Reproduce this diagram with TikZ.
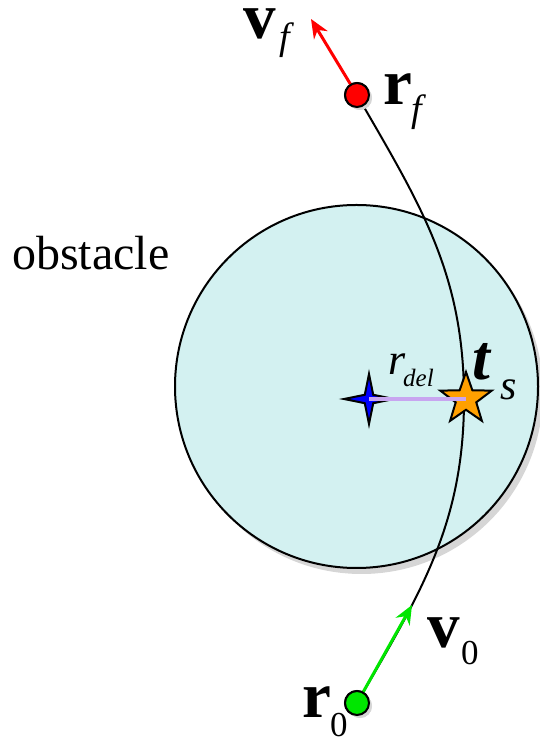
\documentclass[tikz,border=0pt]{standalone}
\usepackage{fontspec}
\setmainfont{Liberation Serif}
\newfontfamily\lblfont{Liberation Serif}
\usetikzlibrary{shapes.geometric, arrows.meta, shadows}
\definecolor{colobst}{RGB}{211,241,241}
\definecolor{colshadow}{RGB}{214,214,214}
\definecolor{colstart}{RGB}{0,230,0}
\definecolor{colend}{RGB}{255,0,0}
\definecolor{colcentre}{RGB}{0,0,255}
\definecolor{colhit}{RGB}{255,160,0}
\definecolor{coldel}{RGB}{200,165,240}
\tikzstyle{endpt}=[circle, draw=black, line width=2bp, minimum size=24bp, inner sep=0pt,
  drop shadow={shadow xshift=3bp, shadow yshift=-3bp, fill=colshadow, opacity=1}]
\tikzstyle{path}=[line width=2bp, black]
\tikzstyle{vel}=[line width=3bp, -{Stealth[length=19bp, width=16bp]}]
\tikzstyle{mainsym}=[anchor=base west, inner sep=0pt, font=\lblfont\fontsize{65bp}{70bp}\selectfont\bfseries]
\tikzstyle{subsym}=[anchor=base west, inner sep=0pt, font=\lblfont\fontsize{38bp}{40bp}\selectfont\itshape]
\tikzstyle{subnum}=[anchor=base west, inner sep=0pt, font=\lblfont\fontsize{35bp}{38bp}\selectfont]

\begin{document}
\begin{tikzpicture}[x=1bp, y=1bp]
      \useasboundingbox (0,0) rectangle (540,745);

      % Obstacle
      \node[circle, draw=black, line width=2bp, fill=colobst, minimum size=363bp, inner sep=0pt,
        drop shadow={shadow xshift=5bp, shadow yshift=-6bp, fill=colshadow, opacity=1}] (obs) at (356.5,358.5) {};
      \node[anchor=base west, inner sep=0pt, font=\lblfont\fontsize{48bp}{50bp}\selectfont] (obslbl) at (12,475) {obstacle};

      % Trajectory
      \node[endpt, fill=colstart] (r0) at (357,42) {};
      \node[endpt, fill=colend] (rf) at (357,650) {};
      \coordinate (turn) at (464,346);
      \coordinate (v0tip) at (412,140);
      \coordinate (vftip) at (311,726);

      \draw[path] (r0.center) to[out=60, in=-90] (turn) to[out=90, in=-60] (rf.center);

      % Centre and closest point
      \node[star, star points=4, star point ratio=4.2, minimum size=50bp, inner sep=0pt,
        draw=black, line width=2bp, fill=colcentre] (ctr) at (369,346) {};
      \node[star, star points=5, star point ratio=2.5, minimum size=54bp, inner sep=0pt,
        draw=black, line width=2bp, fill=colhit] (hit) at (466,346) {};
      \draw[line width=4bp, coldel] (ctr.center) -- (hit.center);

      % Velocities
      \draw[vel, colstart] (r0.center) -- (v0tip);
      \draw[vel, colend] (rf.center) -- (vftip);
      \node[endpt, fill=colstart] at (r0) {};
      \node[endpt, fill=colend] at (rf) {};

      % Labels
      \node[mainsym] (vflbl) at (243,706) {v};
      \node[subsym] (vfsub) at (279,695) {f};
      \node[mainsym] (rflbl) at (383,640) {r};
      \node[subsym] (rfsub) at (411,623) {f};
      \node[mainsym] (v0lbl) at (427,97) {v};
      \node[subnum] (v0sub) at (461,80) {0};
      \node[mainsym] (r0lbl) at (302,27) {r};
      \node[subnum] (r0sub) at (330,8) {0};
      \node[anchor=base west, inner sep=0pt, font=\lblfont\fontsize{44bp}{46bp}\selectfont\itshape] (rdel) at (388,370) {r};
      \node[anchor=base west, inner sep=0pt, font=\lblfont\fontsize{25bp}{27bp}\selectfont\itshape] (rdelsub) at (403,358) {del};
      \node[anchor=base west, inner sep=0pt, font=\lblfont\fontsize{64bp}{66bp}\selectfont\bfseries\itshape] (tlbl) at (472,365) {t};
      \node[subsym, font=\lblfont\fontsize{42bp}{44bp}\selectfont\itshape] (tsub) at (500,345) {s};
    \end{tikzpicture}
\end{document}
